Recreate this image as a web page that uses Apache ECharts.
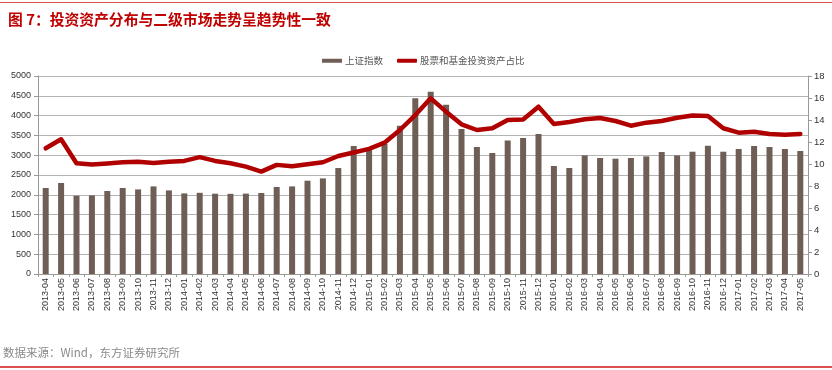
<!DOCTYPE html>
<html>
<head>
<meta charset="utf-8">
<script src="https://cdn.jsdelivr.net/npm/echarts@6/dist/echarts.min.js"></script>
<style>
html,body{margin:0;padding:0;background:#fff;}
#chart{width:832px;height:370px;}
</style>
</head>
<body>
<div id="chart"></div>
<script>
const categories = ['2013-04','2013-05','2013-06','2013-07','2013-08','2013-09','2013-10','2013-11','2013-12',
  '2014-01','2014-02','2014-03','2014-04','2014-05','2014-06','2014-07','2014-08','2014-09','2014-10','2014-11','2014-12',
  '2015-01','2015-02','2015-03','2015-04','2015-05','2015-06','2015-07','2015-08','2015-09','2015-10','2015-11','2015-12',
  '2016-01','2016-02','2016-03','2016-04','2016-05','2016-06','2016-07','2016-08','2016-09','2016-10','2016-11','2016-12',
  '2017-01','2017-02','2017-03','2017-04','2017-05'];
const shIndex = [2172,2298,1977,1985,2096,2172,2136,2212,2111,2035,
  2050,2028,2025,2030,2045,2197,2212,2356,2414,2676,
  3232,3130,3283,3745,4435,4604,4275,3661,3207,3055,
  3374,3434,3535,2727,2677,2995,2929,2912,2929,2970,
  3080,2995,3088,3240,3088,3156,3232,3207,3156,3106];
const shareRatio = [11.43,12.25,10.07,9.95,10.05,10.16,10.2,10.1,10.2,10.28,
  10.62,10.28,10.07,9.76,9.31,9.92,9.8,9.98,10.16,10.73,
  11.05,11.37,11.94,13.09,14.45,15.97,14.76,13.61,13.09,13.25,
  14.0,14.05,15.21,13.64,13.82,14.06,14.18,13.91,13.48,13.76,
  13.91,14.2,14.4,14.37,13.25,12.85,12.94,12.73,12.67,12.73];
const leftTicks = {min:0, max:5000, interval:500};
const rightTicks = {min:0, max:18, interval:2};
const seriesNames = ['上证指数','股票和基金投资资产占比'];
const titleText = '图 7：投资资产分布与二级市场走势呈趋势性一致';
const sourceText = '数据来源：Wind，东方证券研究所';

const chart = echarts.init(document.getElementById('chart'), null, {renderer:'canvas'});
const axisFont = 'Liberation Sans, Arial, sans-serif';
chart.setOption({
  animation:false,
  backgroundColor:'#fff',
  title:{
    text:titleText, left:3, top:7,
    textStyle:{color:'#c00000', fontSize:14.8, fontWeight:'bold', fontFamily:'Noto Sans CJK SC'}
  },
  legend:{
    left:317, top:51, itemGap:14, itemWidth:20, itemHeight:4,
    textStyle:{color:'#555', fontSize:9.5, fontFamily:'Noto Sans CJK SC', padding:[0,0,0,-2]},
    data:[{name:seriesNames[0], icon:'rect'},{name:seriesNames[1], icon:'roundRect'}]
  },
  grid:{left:38, right:24, top:76, bottom:96, containLabel:false},
  xAxis:{
    type:'category', data:categories, boundaryGap:true,
    axisLine:{lineStyle:{color:'#999'}},
    axisTick:{show:true, length:3, lineStyle:{color:'#999'}},
    axisLabel:{rotate:90, interval:0, fontSize:9, color:'#333', fontFamily:axisFont, margin:4}
  },
  yAxis:[
    {type:'value', min:leftTicks.min, max:leftTicks.max, interval:leftTicks.interval, position:'left',
     axisLine:{show:true, lineStyle:{color:'#999'}},
     axisTick:{show:true, length:4, lineStyle:{color:'#999'}},
     splitLine:{lineStyle:{color:'#b3b3b3', width:1}},
     axisLabel:{fontSize:9, color:'#333', fontFamily:axisFont, margin:7, formatter:function(v){return String(v);}}},
    {type:'value', min:rightTicks.min, max:rightTicks.max, interval:rightTicks.interval, position:'right',
     axisLine:{show:true, lineStyle:{color:'#999'}},
     axisTick:{show:true, length:4, lineStyle:{color:'#999'}},
     splitLine:{show:false},
     axisLabel:{fontSize:9.5, color:'#333', fontFamily:axisFont, margin:6, formatter:function(v){return String(v);}}}
  ],
  series:[
    {name:seriesNames[0], type:'bar', data:shIndex, yAxisIndex:0, barWidth:6,
     itemStyle:{color:'#6e5e55'}},
    {name:seriesNames[1], type:'line', data:shareRatio, yAxisIndex:1,
     symbol:'none', smooth:false,
     lineStyle:{color:'#b00000', width:4.5, join:'round', cap:'round'},
     itemStyle:{color:'#b00000'}}
  ],
  graphic:[
    {type:'rect', left:0, top:2, shape:{width:832, height:1}, style:{fill:'#d9504f'}},
    {type:'rect', left:0, top:366, shape:{width:832, height:2}, style:{fill:'#d9504f'}},
    {type:'text', left:3, top:347, style:{text:sourceText, fill:'#8a8a8a', fontSize:11.5, fontFamily:'Noto Sans CJK SC'}}
  ]
});
</script>
</body>
</html>
